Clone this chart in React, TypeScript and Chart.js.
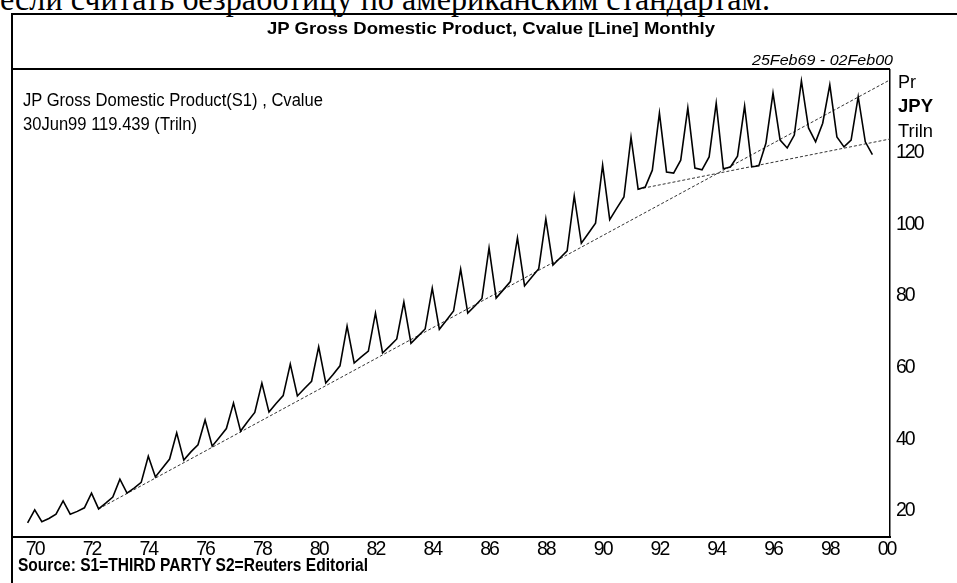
import React, { useEffect, useLayoutEffect, useRef } from 'react';
import { Chart, registerables } from 'chart.js';

Chart.register(...registerables);

// ---- data, quarterly, JPY trillion ----
const years = [69, 70, 71, 72, 73, 74, 75, 76, 77, 78, 79, 80, 81, 82, 83, 84, 85, 86, 87, 88, 89, 90, 91, 92, 93, 94, 95, 96, 97, 98, 99];
const marValues = [null, 17.0, 19.1, 20.6, 25.0, 29.5, 34.2, 38.1, 42.3, 47.6, 52.1, 55.7, 61.3, 64.1, 66.8, 70.7, 75.2, 79.4, 82.8, 88.6, 94.7, 101.3, 109.8, 114.6, 115.7, 115.5, 116.0, 123.5, 126.9, 124.4, 123.0];
const junValues = [null, 17.9, 19.9, 22.2, 26.4, 32.0, 36.5, 40.5, 45.0, 50.0, 54.2, 58.0, 63.0, 66.0, 68.8, 73.2, 77.2, 81.7, 85.2, 90.6, 97.5, 104.5, 110.4, 114.3, 115.2, 116.0, 116.3, 121.3, 123.0, 121.6, 119.439];
const sepValues = [16.7, 19.1, 20.9, 23.9, 28.0, 34.5, 38.5, 43.0, 47.5, 52.2, 56.2, 60.5, 64.6, 68.0, 70.8, 75.8, 79.3, 84.0, 87.6, 92.6, 100.3, 107.6, 115.1, 117.9, 118.8, 119.0, 122.6, 124.9, 128.2, 123.5, null];
const decValues = [20.3, 22.8, 25.0, 28.9, 35.3, 41.8, 45.4, 50.1, 55.7, 61.0, 65.8, 71.6, 75.2, 78.3, 82.2, 87.5, 93.4, 96.2, 101.5, 107.9, 116.5, 124.3, 131.0, 132.5, 133.8, 133.0, 136.6, 140.0, 138.9, 135.6, null];
const quarterOffsets = [0.25, 0.5, 0.75, 1.0];

// trend lines (start / end)
const trendLongX = [72.25, 100.12];
const trendLongY = [20.6, 140.3];
const trendShortX = [91.25, 100.12];
const trendShortY = [109.8, 123.8];

// ticks
const xTickValues = [70, 72, 74, 76, 78, 80, 82, 84, 86, 88, 90, 92, 94, 96, 98, 100];
const yTickValues = [20, 40, 60, 80, 100, 120];

const X_MIN = 69.2;
const X_MAX = 100.12;
const Y_MIN = 12.75;
const Y_MAX = 143.05;

const TICKFONT = '"Liberation Sans", Arial, sans-serif';
const SANS = '"Liberation Sans", Arial, sans-serif';
const SERIF = '"Liberation Serif", "Times New Roman", serif';

function buildSeries() {
  const pts: { x: number; y: number }[] = [];
  years.forEach((yr, i) => {
    const vals = [marValues[i], junValues[i], sepValues[i], decValues[i]];
    vals.forEach((v, k) => {
      if (v !== null && v !== undefined) pts.push({ x: yr + quarterOffsets[k], y: v as number });
    });
  });
  return pts;
}

function pairPoints(xs: number[], ys: number[]) {
  return xs.map((x, i) => ({ x, y: ys[i] }));
}

// condensed look for the axis labels (the original uses a narrow face)
const condenseLabels = {
  id: 'condenseLabels',
  beforeDraw(chart: any) {
    chart.ctx.letterSpacing = '-2px';
  },
  afterDraw(chart: any) {
    chart.ctx.letterSpacing = '0px';
  },
};

type TxtProps = {
  text: string;
  x: number;
  base: number;
  size: number;
  width: number;
  bold?: boolean;
  italic?: boolean;
  family?: string;
  ascentRatio?: number;
};

function Txt({ text, x, base, size, width, bold, italic, family = SANS, ascentRatio = 0.8465 }: TxtProps) {
  const ref = useRef<HTMLSpanElement>(null);
  useLayoutEffect(() => {
    const el = ref.current;
    if (!el) return;
    el.style.transform = 'none';
    const w = el.getBoundingClientRect().width;
    if (w > 0) el.style.transform = `scaleX(${width / w})`;
  }, [text, width, size]);
  return (
    <span
      ref={ref}
      style={{
        position: 'absolute',
        left: x,
        top: base - ascentRatio * size,
        fontSize: size,
        lineHeight: `${size}px`,
        fontFamily: family,
        fontWeight: bold ? 700 : 400,
        fontStyle: italic ? 'italic' : 'normal',
        whiteSpace: 'nowrap',
        transformOrigin: '0 0',
        color: '#000',
        display: 'block',
      }}
    >
      {text}
    </span>
  );
}

function Line({ l, t, w, h }: { l: number; t: number; w: number; h: number }) {
  return <div style={{ position: 'absolute', left: l, top: t, width: w, height: h, background: '#000' }} />;
}

export default function App() {
  const canvasRef = useRef<HTMLCanvasElement>(null);

  useEffect(() => {
    const canvas = canvasRef.current;
    if (!canvas) return;
    const chart = new Chart(canvas, {
      type: 'line',
      data: {
        datasets: [
          {
            data: buildSeries(),
            borderColor: '#000',
            borderWidth: 1.6,
            pointRadius: 0,
            tension: 0,
            fill: false,
          },
          {
            data: pairPoints(trendLongX, trendLongY),
            borderColor: '#333',
            borderWidth: 1,
            borderDash: [3, 2],
            pointRadius: 0,
            fill: false,
          },
          {
            data: pairPoints(trendShortX, trendShortY),
            borderColor: '#333',
            borderWidth: 1,
            borderDash: [3, 2],
            pointRadius: 0,
            fill: false,
          },
        ],
      },
      plugins: [condenseLabels],
      options: {
        animation: false,
        responsive: false,
        maintainAspectRatio: false,
        events: [],
        layout: { padding: { left: 12, top: 70, right: 0, bottom: 0 } },
        plugins: {
          legend: { display: false },
          tooltip: { enabled: false },
          title: { display: false },
        },
        scales: {
          x: {
            type: 'linear',
            min: X_MIN,
            max: X_MAX,
            afterBuildTicks: (axis: any) => {
              axis.ticks = xTickValues.map((value) => ({ value }));
            },
            afterFit: (axis: any) => {
              axis.height = 46;
            },
            ticks: {
              autoSkip: false,
              maxRotation: 0,
              padding: 1,
              color: '#000',
              font: { family: TICKFONT, size: 19.5 },
              callback: (v: any) => String(Number(v) % 100).padStart(2, '0'),
            },
            grid: { display: true, drawOnChartArea: false, drawTicks: false },
            border: { color: '#000', width: 2 },
          },
          y: {
            type: 'linear',
            position: 'right',
            min: Y_MIN,
            max: Y_MAX,
            afterBuildTicks: (axis: any) => {
              axis.ticks = yTickValues.map((value) => ({ value }));
            },
            afterFit: (axis: any) => {
              axis.width = 67;
            },
            ticks: {
              padding: 6,
              color: '#000',
              font: { family: TICKFONT, size: 19.5 },
              callback: (v: any) => String(v),
            },
            grid: { display: true, drawOnChartArea: false, drawTicks: false },
            border: { color: '#000', width: 1.5 },
          },
        },
      },
    } as any);
    return () => chart.destroy();
  }, []);

  return (
    <div style={{ position: 'fixed', left: 0, top: 0, width: 957, height: 583, overflow: 'hidden', background: '#fff' }}>
      <Txt text="если считать безработицу по американским стандартам." x={0} base={11} size={33} width={770} family={SERIF} ascentRatio={0.8375} />
      <canvas ref={canvasRef} width={957} height={583} style={{ position: 'absolute', left: 0, top: 0, width: 957, height: 583 }} />
      {/* frame */}
      <Line l={11} t={13} w={946} h={2} />
      <Line l={11} t={13} w={2} h={570} />
      <Line l={11} t={68} w={879} h={1.5} />
      <Txt text="JP Gross Domestic Product, Cvalue [Line] Monthly" x={267} base={34.5} size={17} width={448} bold />
      <Txt text="25Feb69 - 02Feb00" x={752} base={65} size={14} width={141} italic />
      <Txt text="JP Gross Domestic Product(S1) , Cvalue" x={23} base={107} size={17.5} width={300} />
      <Txt text="30Jun99 119.439 (Triln)" x={23} base={131} size={17.5} width={174} />
      <Txt text="Pr" x={898} base={88} size={19} width={18} />
      <Txt text="JPY" x={898} base={112.5} size={19} width={35} bold />
      <Txt text="Triln" x={898} base={137} size={19} width={35} />
      <Txt text="Source: S1=THIRD PARTY S2=Reuters Editorial" x={18} base={571} size={19} width={350} bold />
    </div>
  );
}
